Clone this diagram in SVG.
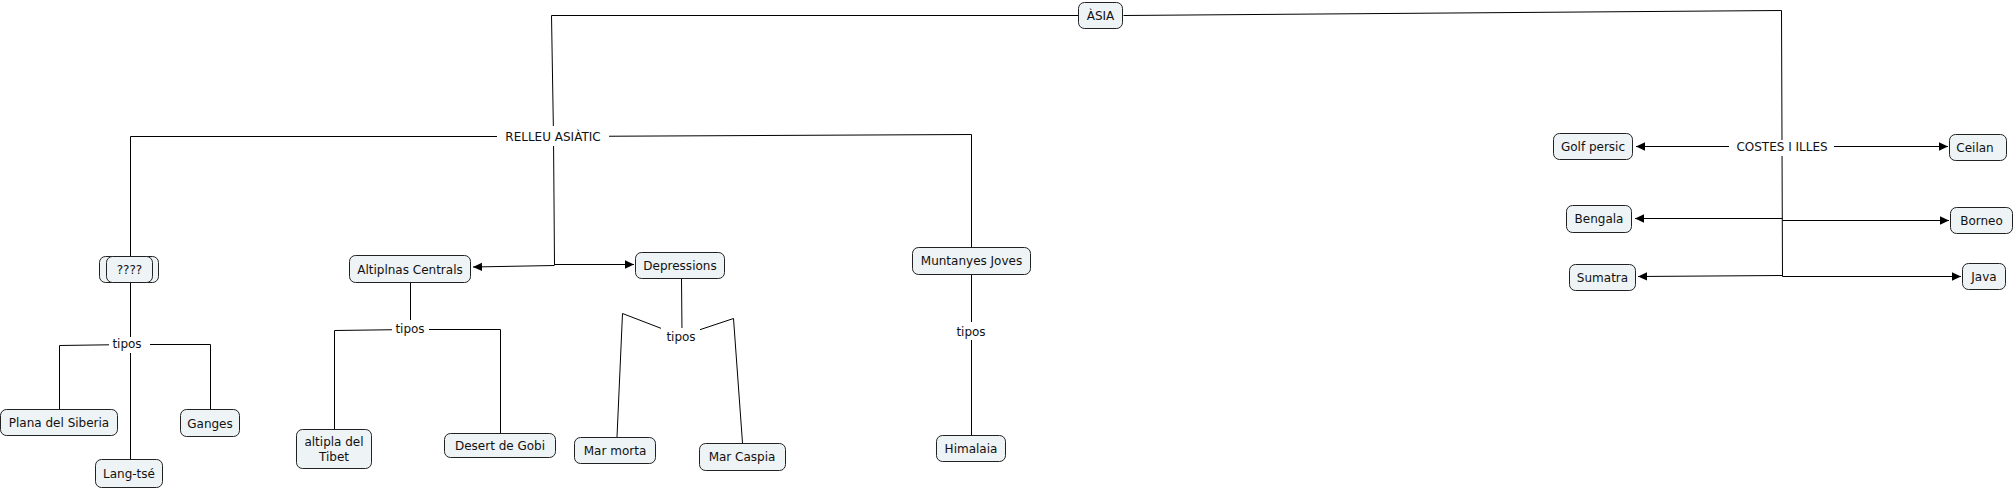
<svg xmlns="http://www.w3.org/2000/svg" width="2016" height="490" viewBox="0 0 2016 490">
<style>
.n rect{fill:#eef3f5;stroke:#222;stroke-width:1}
text{font-family:"DejaVu Sans","Liberation Sans",sans-serif;font-size:12px;fill:#111;text-anchor:middle}
.c{fill:none;stroke:#000;stroke-width:1}
.lb rect{fill:#fff;stroke:none}
</style>
<defs>
<marker id="ah" markerUnits="userSpaceOnUse" markerWidth="10" markerHeight="10" refX="9" refY="5" orient="auto">
<path d="M0,0.8 L9,5 L0,9.2 Z" fill="#000"/>
</marker>
</defs>
<rect width="2016" height="490" fill="#fff"/>
<g id="connectors">
<polyline class="c" points="1078.5,15.5 551.5,15.5 553.5,136 554.5,265"/>
<polyline class="c" points="1123.5,15.5 1781.5,10.5 1782.5,276.5"/>
<polyline class="c" points="130.5,256 130.5,136.5 553.5,136.5 971.5,134.5 971.5,247"/>
<line class="c" x1="554.5" y1="265.5" x2="473" y2="267" marker-end="url(#ah)"/>
<line class="c" x1="554.5" y1="264.5" x2="634" y2="264.5" marker-end="url(#ah)"/>
<line class="c" x1="130.5" y1="282" x2="130.5" y2="459"/>
<polyline class="c" points="59.5,409 59.5,345.5 130,344.5 210.5,344.5 210.5,409"/>
<line class="c" x1="410.5" y1="283" x2="410.5" y2="329"/>
<polyline class="c" points="334.5,429 334.5,330.5 410,329.5 500.5,329.5 500.5,433"/>
<line class="c" x1="681.5" y1="278" x2="682" y2="334"/>
<polyline class="c" points="617,437 622.5,313.5 681,336 733.5,318.5 742.5,443"/>
<line class="c" x1="971.5" y1="274" x2="971.5" y2="435"/>
<line class="c" x1="1782" y1="146.5" x2="1636" y2="146.5" marker-end="url(#ah)"/>
<line class="c" x1="1782" y1="146.5" x2="1948" y2="146.5" marker-end="url(#ah)"/>
<line class="c" x1="1782.5" y1="218.5" x2="1635" y2="218.5" marker-end="url(#ah)"/>
<line class="c" x1="1782.5" y1="220.5" x2="1949" y2="220.5" marker-end="url(#ah)"/>
<line class="c" x1="1782.5" y1="275.5" x2="1638" y2="276.5" marker-end="url(#ah)"/>
<line class="c" x1="1782.5" y1="276.5" x2="1961" y2="276.5" marker-end="url(#ah)"/>
<g class="lb">
<rect x="497" y="126" width="112" height="20"/><text x="553" y="140.5">RELLEU ASIÀTIC</text>
<rect x="109" y="337" width="41" height="16"/><text x="127" y="347.5">tipos</text>
<rect x="392" y="320" width="37" height="16"/><text x="410" y="332.5">tipos</text>
<rect x="661" y="328" width="39" height="16"/><text x="681" y="340.5">tipos</text>
<rect x="952" y="322" width="38" height="18"/><text x="971" y="335.5">tipos</text>
<rect x="1729" y="140" width="105" height="16"/><text x="1782" y="150.5">COSTES I ILLES</text>
</g>
</g>
<g id="asia" class="n"><rect x="1078.5" y="2.5" width="44" height="26" rx="6"/><text x="1100.5" y="20">ÀSIA</text></g>
<g id="q" class="n"><rect x="99.5" y="256.5" width="59" height="26" rx="6"/><rect x="106.5" y="256.5" width="46" height="26" rx="6"/><text x="129.5" y="274">????</text></g>
<g id="altiplnas" class="n"><rect x="349.5" y="255.5" width="121" height="27" rx="6"/><text x="410" y="273.5">Altiplnas Centrals</text></g>
<g id="depressions" class="n"><rect x="635.5" y="252.5" width="89" height="26" rx="6"/><text x="680" y="270">Depressions</text></g>
<g id="muntanyes" class="n"><rect x="912.5" y="247.5" width="118" height="27" rx="6"/><text x="971.5" y="265">Muntanyes Joves</text></g>
<g id="plana" class="n"><rect x="0.5" y="409.5" width="117" height="26" rx="6"/><text x="59" y="427">Plana del Siberia</text></g>
<g id="ganges" class="n"><rect x="180.5" y="409.5" width="59" height="27" rx="6"/><text x="210" y="427.5">Ganges</text></g>
<g id="langtse" class="n"><rect x="95.5" y="459.5" width="67" height="28" rx="6"/><text x="129" y="478">Lang-tsé</text></g>
<g id="tibet" class="n"><rect x="296.5" y="429.5" width="75" height="39" rx="6"/><text x="334" y="446">altipla del</text><text x="334" y="460.5">Tibet</text></g>
<g id="gobi" class="n"><rect x="444.5" y="433.5" width="111" height="24" rx="6"/><text x="500" y="450">Desert de Gobi</text></g>
<g id="marmorta" class="n"><rect x="574.5" y="437.5" width="81" height="26" rx="6"/><text x="615" y="455">Mar morta</text></g>
<g id="marcaspia" class="n"><rect x="699.5" y="443.5" width="86" height="27" rx="6"/><text x="742" y="461">Mar Caspia</text></g>
<g id="himalaia" class="n"><rect x="936.5" y="435.5" width="69" height="26" rx="6"/><text x="971" y="453">Himalaia</text></g>
<g id="golf" class="n"><rect x="1553.5" y="133.5" width="79" height="26" rx="6"/><text x="1593" y="150.5">Golf persic</text></g>
<g id="ceilan" class="n"><rect x="1949.5" y="134.5" width="57" height="26" rx="6"/><text x="1975" y="152">Ceilan</text></g>
<g id="bengala" class="n"><rect x="1566.5" y="205.5" width="65" height="27" rx="6"/><text x="1599" y="223">Bengala</text></g>
<g id="borneo" class="n"><rect x="1950.5" y="207.5" width="62" height="26" rx="6"/><text x="1981.5" y="225">Borneo</text></g>
<g id="sumatra" class="n"><rect x="1569.5" y="264.5" width="66" height="26" rx="6"/><text x="1602.5" y="282">Sumatra</text></g>
<g id="java" class="n"><rect x="1962.5" y="263.5" width="43" height="26" rx="6"/><text x="1984" y="281">Java</text></g>
</svg>
